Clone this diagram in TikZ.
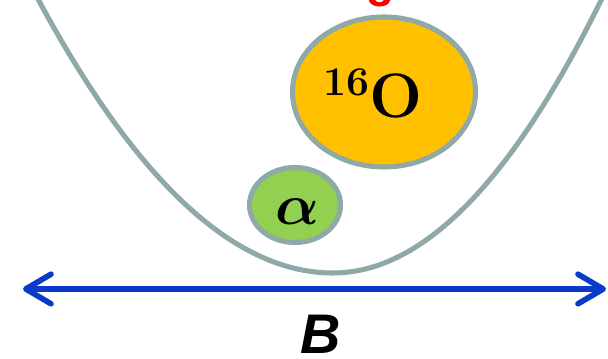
\RequirePackage{fix-cm}
\documentclass[tikz,border=0pt]{standalone}
\usepackage{amsmath,amssymb}
\usepackage{bm}
\usepackage{fontspec}
\usepackage{tikz}
\usetikzlibrary{arrows.meta,positioning,shapes}
\newfontfamily\arialfont{Liberation Sans}
\definecolor{wellgray}{HTML}{8FA8A8}
\definecolor{oxygold}{HTML}{FFC000}
\definecolor{alphagreen}{HTML}{92D050}
\definecolor{axisblue}{HTML}{0A3AC8}
\definecolor{tagred}{HTML}{FF0000}
\tikzset{
  well/.style={draw=wellgray,line width=3.6pt,line cap=round},
  nucleus/.style={draw=wellgray,line width=3.6pt,ellipse,inner sep=0pt},
  axisarr/.style={{Straight Barb[length=6.3mm,width=7.4mm,round]}-{Straight Barb[length=6.3mm,width=7.4mm,round]},
                  line width=4pt,color=axisblue}
}

\begin{document}
\begin{tikzpicture}[x=0.025cm,y=0.025cm]
      \clip (0,0) rectangle (608,359);
      % potential well
      \draw[well,shift={(333,86)}] plot[domain=-300:0,samples=60] (\x,{(0.0561*\x)^2})
        -- plot[domain=0:285,samples=60] (\x,{(0.0616*\x)^2});
      % nuclei
      \node[nucleus,fill=oxygold,minimum width=183*0.025cm,minimum height=150*0.025cm] (oxy) at (384,267) {};
      \node[nucleus,fill=alphagreen,minimum width=91*0.025cm,minimum height=75*0.025cm] (alf) at (295,154) {};
      \node[anchor=base,inner sep=0pt] (oxytxt) at (373,241)
        {\bfseries\fontsize{44.6}{44}\selectfont\raisebox{16.3pt}{\fontsize{29}{29}\selectfont 16}O};
      \node[anchor=base,inner sep=0pt] (alftxt) at (297,134)
        {\fontsize{41}{41}\selectfont$\bm{\alpha}$};
      % cut-off label
      \node[anchor=base,inner sep=0pt,text=tagred] (tag) at (380,352)
        {\arialfont\bfseries\fontsize{32}{32}\selectfont 8};
      % axis
      \coordinate (bl) at (23,70);
      \coordinate (br) at (606,70);
      \draw[axisarr] (bl)--(br);
      \node[anchor=base,inner sep=0pt] (blab) at (321,5)
        {\arialfont\bfseries\itshape\fontsize{39.7}{40}\selectfont B};
\end{tikzpicture}
\end{document}
